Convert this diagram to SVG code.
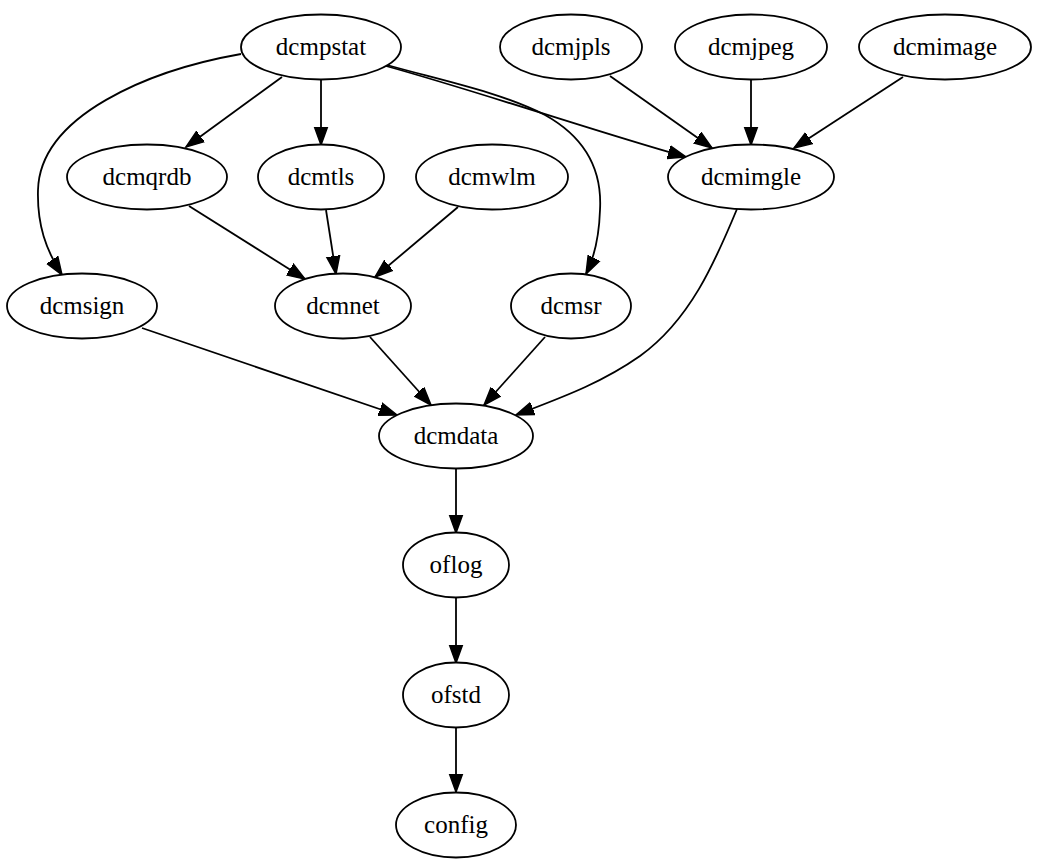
<svg xmlns="http://www.w3.org/2000/svg" width="1063" height="865" viewBox="0 0 1063 865">
<style>
.node ellipse{fill:#fff;stroke:#000;stroke-width:1.8}
.node text{font-family:"Liberation Serif","Times New Roman",serif;font-size:25px;text-anchor:middle;fill:#000}
#edges path{fill:none;stroke:#000;stroke-width:1.8;marker-end:url(#arr)}
</style>
<defs>
<marker id="arr" markerUnits="userSpaceOnUse" markerWidth="20" markerHeight="16" viewBox="0 -8 20 16" refX="18" refY="0" orient="auto">
<path d="M0,-6.5 L18,0 L0,6.5 z" fill="#000" stroke="#000" stroke-width="1.5"/>
</marker>
</defs>
<rect width="1063" height="865" fill="#fff"/>
<g id="edges">
<path d="M241,54 C150,70 40,115 38,190 C37,225 46,250 62,275"/>
<path d="M282,77 L186,147"/>
<path d="M321,79 L321,145"/>
<path d="M386,66 C480,92 600,133 686,157"/>
<path d="M387,65 C440,80 500,92 545,115 C590,140 602,175 600,210 C599,240 594,258 586,274"/>
<path d="M610,76 L712,148"/>
<path d="M751,80 L751,145"/>
<path d="M903,77 L794,148"/>
<path d="M189,206 L305,279"/>
<path d="M326,210 L336,274"/>
<path d="M458,207 L375,277"/>
<path d="M737,209 C715,262 690,320 640,356 C600,384 560,398 516,415"/>
<path d="M142,328 L397,415"/>
<path d="M370,337 L431,405"/>
<path d="M545,337 L484,405"/>
<path d="M456,468 L456,533"/>
<path d="M456,598 L456,663"/>
<path d="M456,727 L456,792"/>
</g>
<g id="dcmpstat" class="node"><ellipse cx="321" cy="47" rx="80" ry="32.5"/><text x="321" y="55">dcmpstat</text></g>
<g id="dcmjpls" class="node"><ellipse cx="571" cy="47" rx="71" ry="32.5"/><text x="571" y="55">dcmjpls</text></g>
<g id="dcmjpeg" class="node"><ellipse cx="751" cy="47" rx="76" ry="32.5"/><text x="751" y="55">dcmjpeg</text></g>
<g id="dcmimage" class="node"><ellipse cx="945" cy="47" rx="86" ry="32.5"/><text x="945" y="55">dcmimage</text></g>
<g id="dcmqrdb" class="node"><ellipse cx="147" cy="177" rx="80" ry="32.5"/><text x="147" y="185">dcmqrdb</text></g>
<g id="dcmtls" class="node"><ellipse cx="321" cy="177" rx="63" ry="32.5"/><text x="321" y="185">dcmtls</text></g>
<g id="dcmwlm" class="node"><ellipse cx="492" cy="177" rx="76" ry="32.5"/><text x="492" y="185">dcmwlm</text></g>
<g id="dcmimgle" class="node"><ellipse cx="751" cy="177" rx="83" ry="32.5"/><text x="751" y="185">dcmimgle</text></g>
<g id="dcmsign" class="node"><ellipse cx="82" cy="306" rx="75" ry="32.5"/><text x="82" y="314">dcmsign</text></g>
<g id="dcmnet" class="node"><ellipse cx="343" cy="306" rx="68" ry="32.5"/><text x="343" y="314">dcmnet</text></g>
<g id="dcmsr" class="node"><ellipse cx="571" cy="306" rx="60" ry="32.5"/><text x="571" y="314">dcmsr</text></g>
<g id="dcmdata" class="node"><ellipse cx="456" cy="436" rx="77" ry="32.5"/><text x="456" y="444">dcmdata</text></g>
<g id="oflog" class="node"><ellipse cx="456" cy="565" rx="53" ry="32.5"/><text x="456" y="573">oflog</text></g>
<g id="ofstd" class="node"><ellipse cx="456" cy="695" rx="53" ry="32.5"/><text x="456" y="703">ofstd</text></g>
<g id="config" class="node"><ellipse cx="456" cy="825" rx="60" ry="32.5"/><text x="456" y="833">config</text></g>
</svg>
